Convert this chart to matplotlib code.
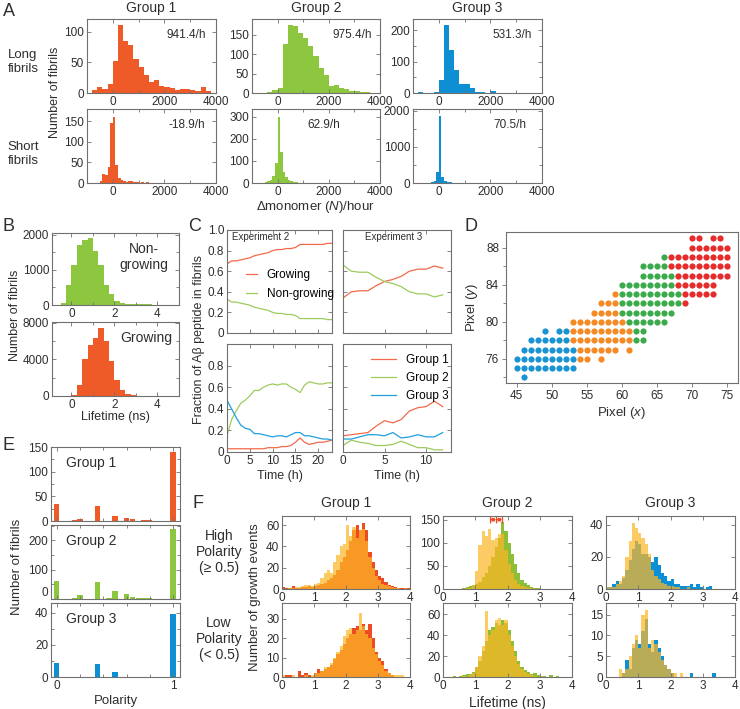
import matplotlib
matplotlib.use('Agg')
import matplotlib.pyplot as plt
import numpy as np
from matplotlib.ticker import FixedLocator

plt.rcParams['font.family'] = ['Liberation Sans', 'DejaVu Sans']
plt.rcParams['font.size'] = 8
plt.rcParams['mathtext.fontset'] = 'custom'
plt.rcParams['mathtext.rm'] = 'Liberation Sans'
plt.rcParams['mathtext.it'] = 'Liberation Sans:italic'

# ---------------- DATA ----------------
# Panel A: histograms of delta monomer per hour
a_groups = ['Group 1', 'Group 2', 'Group 3']
a_long_rates = ['941.4/h', '975.4/h', '531.3/h']
a_short_rates = ['-18.9/h', '62.9/h', '70.5/h']
a_long_bin_start = [-800, -1000, -800]
a_long_bin_width = 200
a_short_bin_start = [-600, -600, -600]
a_short_bin_width = 100
a_long_g1 = [5, 10, 6, 15, 53, 112, 85, 78, 55, 42, 30, 18, 22, 12, 10, 8, 5, 6, 6, 5, 3, 10, 3]
a_long_g2 = [1, 1, 1, 2, 8, 12, 125, 175, 172, 155, 140, 120, 95, 65, 45, 18, 20, 12, 10, 6, 4, 3, 2, 1]
a_long_g3 = [3, 0, 1, 3, 40, 215, 138, 72, 30, 27, 15, 3, 3, 0, 7]
a_short_g1 = [0, 6, 22, 20, 38, 145, 160, 45, 12, 8, 4, 3, 4, 5, 3, 3, 1, 2, 1, 2, 1, 1, 1]
a_short_g2 = [2, 5, 8, 12, 30, 90, 300, 140, 50, 25, 12, 8, 6, 4, 2, 2, 1]
a_short_g3 = [0, 0, 5, 15, 50, 300, 1850, 180, 60, 30, 15, 8, 5, 3]

# Panel B: lifetime histograms
b_bin_width = 0.25
b_nongrow_start = -0.5
b_nongrow = [50, 570, 1150, 1700, 1850, 1900, 1550, 1150, 580, 300, 100, 50, 20, 15, 20, 35, 35, 5]
b_grow_start = 0.0
b_grow = [100, 1200, 4100, 5600, 6300, 7400, 6000, 3800, 1800, 700, 200, 60]

# Panel C: fraction of peptide in fibrils
c_time2 = [0, 1, 2, 3, 4, 5, 6, 7, 8, 9, 10, 11, 12, 13, 14, 15, 16, 17, 18, 19, 20, 21, 22, 23]
c_time3 = [0, 1, 2, 3, 4, 5, 6, 7, 8, 9, 10, 11, 12]
c_grow2 = [0.67, 0.70, 0.70, 0.71, 0.72, 0.73, 0.75, 0.76, 0.77, 0.78, 0.80, 0.81, 0.81, 0.82, 0.82, 0.83,
           0.86, 0.86, 0.86, 0.86, 0.86, 0.86, 0.87, 0.87]
c_nongrow2 = [0.33, 0.30, 0.30, 0.29, 0.28, 0.27, 0.25, 0.24, 0.23, 0.22, 0.20, 0.19, 0.19, 0.18, 0.18, 0.17,
              0.14, 0.14, 0.14, 0.14, 0.14, 0.14, 0.13, 0.13]
c_grow3 = [0.34, 0.40, 0.41, 0.41, 0.46, 0.50, 0.52, 0.55, 0.60, 0.62, 0.62, 0.65, 0.63]
c_nongrow3 = [0.66, 0.60, 0.59, 0.59, 0.54, 0.50, 0.48, 0.45, 0.40, 0.38, 0.38, 0.35, 0.37]
c_g1_exp2 = [0.03, 0.03, 0.03, 0.03, 0.03, 0.03, 0.03, 0.03, 0.03, 0.04, 0.04, 0.04, 0.05, 0.05, 0.06, 0.09,
             0.13, 0.09, 0.07, 0.08, 0.09, 0.09, 0.10, 0.11]
c_g2_exp2 = [0.15, 0.30, 0.38, 0.45, 0.48, 0.52, 0.57, 0.57, 0.60, 0.62, 0.63, 0.62, 0.63, 0.63, 0.60, 0.58,
             0.55, 0.62, 0.65, 0.64, 0.63, 0.63, 0.64, 0.64]
c_g3_exp2 = [0.48, 0.40, 0.32, 0.25, 0.22, 0.21, 0.17, 0.17, 0.16, 0.15, 0.14, 0.15, 0.15, 0.14, 0.16, 0.18,
             0.18, 0.15, 0.15, 0.14, 0.13, 0.12, 0.12, 0.11]
c_g1_exp3 = [0.15, 0.16, 0.17, 0.18, 0.24, 0.29, 0.27, 0.30, 0.38, 0.41, 0.42, 0.47, 0.42]
c_g2_exp3 = [0.06, 0.11, 0.09, 0.08, 0.06, 0.06, 0.07, 0.10, 0.07, 0.04, 0.04, 0.02, 0.02]
c_g3_exp3 = [0.12, 0.12, 0.14, 0.16, 0.16, 0.15, 0.18, 0.13, 0.14, 0.16, 0.14, 0.14, 0.18]

# Panel D: pixel clusters (row y -> list of x)
d_blue = {79: [49, 51, 52], 78: [47, 48, 49, 50, 51, 52], 77: [46, 47, 48, 49, 50, 51, 52, 53],
          76: [45, 46, 47, 48, 49, 50, 51, 52, 53], 75: [45, 46, 47, 48, 49, 50, 51, 52, 53], 74: [46]}
d_orange = {83: [59], 82: [57, 58, 59], 81: [56, 57, 58, 59], 80: [53, 54, 55, 56, 57, 58, 59, 60],
            79: [53, 54, 55, 56, 57, 58, 59, 60, 61], 78: [53, 54, 55, 56, 57, 58, 59, 60, 61],
            77: [54, 55, 56, 57, 58, 59, 61], 76: [54, 55, 57]}
d_green = {87: [66], 86: [63, 64, 65, 66], 85: [63, 64, 65, 66, 67], 84: [60, 61, 62, 63, 64, 65, 66, 67],
           83: [60, 61, 62, 63, 64, 65, 66, 67, 68], 82: [60, 61, 62, 63, 64, 65, 66, 67, 68],
           81: [60, 61, 62, 63, 64, 65, 66, 67], 80: [61, 62, 63, 64, 65, 66], 79: [62, 63], 78: [62, 63]}
d_red = {89: [70, 71, 73, 74], 88: [70, 71, 72, 73, 74, 75], 87: [67, 68, 69, 70, 71, 72, 73, 74, 75],
         86: [67, 68, 69, 70, 71, 72, 73, 74, 75], 85: [68, 69, 70, 71, 72, 73, 74, 75],
         84: [68, 69, 70, 71, 72, 73], 83: [69, 70, 71, 72, 73], 82: [69]}

# Panel E: polarity
e_pol_g1 = [0.0, 0.15, 0.2, 0.35, 0.45, 0.5, 0.6, 0.65, 0.75, 0.8, 1.0]
e_cnt_g1 = [35, 2, 5, 30, 1, 10, 7, 4, 2, 2, 140]
e_pol_g2 = [0.0, 0.15, 0.2, 0.35, 0.45, 0.5, 0.6, 0.65, 0.7, 0.75, 0.8, 1.0]
e_cnt_g2 = [63, 2, 15, 58, 3, 27, 16, 6, 5, 3, 2, 240]
e_pol_g3 = [0.0, 0.35, 0.5, 1.0]
e_cnt_g3 = [9, 8, 3, 39]

# Panel F: lifetime histograms of growth events (bins 0.0-4.0, width 0.1)
f_bin_width = 0.1
f_g1_high_grp = [2, 1, 1, 3, 1, 1, 2, 2, 3, 2, 3, 4, 5, 6, 8, 10, 13, 18, 25, 30,
                 37, 45, 55, 60, 55, 62, 55, 35, 25, 18, 12, 10, 7, 4, 3, 2, 1, 1, 1, 1]
f_g1_high_yel = [0, 0, 1, 1, 2, 2, 3, 4, 4, 3, 5, 6, 10, 15, 18, 15, 25, 32, 40, 42,
                 60, 50, 58, 48, 55, 56, 45, 30, 20, 12, 8, 5, 4, 3, 2, 1, 1, 0, 1, 0]
f_g1_low_grp = [0, 1, 1, 0, 0, 3, 1, 2, 1, 0, 2, 4, 3, 4, 5, 6, 9, 12, 14, 17,
                20, 22, 25, 26, 24, 27, 24, 27, 20, 13, 10, 8, 4, 2, 1, 0, 0, 0, 0, 0]
f_g1_low_yel = [1, 0, 0, 1, 0, 0, 0, 1, 0, 1, 2, 2, 3, 5, 5, 7, 10, 13, 16, 21,
                24, 25, 22, 24, 33, 26, 22, 20, 15, 12, 8, 6, 3, 2, 1, 1, 1, 1, 0, 0]
f_g2_high_grp = [0, 0, 1, 1, 0, 1, 2, 4, 6, 8, 10, 15, 25, 35, 50, 70, 90, 110, 145, 125,
                 100, 75, 55, 35, 20, 12, 8, 5, 3, 2, 1, 1, 0, 1, 0, 0, 0, 0, 0, 0]
f_g2_high_yel = [0, 0, 0, 0, 0, 0, 0, 2, 3, 8, 40, 95, 125, 115, 130, 105, 110, 120, 118, 85,
                 55, 35, 20, 10, 6, 4, 2, 2, 1, 1, 1, 0, 1, 0, 0, 0, 0, 0, 0, 0]
f_g2_low_grp = [0, 0, 0, 1, 0, 1, 2, 3, 3, 5, 10, 15, 25, 35, 45, 48, 52, 50, 55, 52,
                45, 35, 25, 15, 10, 7, 5, 3, 4, 2, 1, 1, 0, 2, 0, 1, 0, 0, 0, 0]
f_g2_low_yel = [0, 0, 0, 0, 0, 0, 1, 0, 2, 4, 10, 20, 30, 63, 40, 45, 55, 57, 50, 55,
                40, 30, 20, 12, 8, 5, 3, 2, 1, 0, 1, 0, 0, 0, 0, 0, 0, 0, 0, 0]
f_g3_high_grp = [1, 1, 3, 5, 3, 7, 12, 18, 25, 30, 28, 22, 22, 20, 17, 20, 15, 10, 8, 5,
                 6, 3, 3, 2, 2, 2, 3, 1, 3, 1, 0, 1, 2, 0, 0, 0, 0, 0, 0, 0]
f_g3_high_yel = [1, 1, 1, 3, 5, 8, 20, 30, 41, 38, 35, 32, 28, 22, 12, 8, 6, 4, 3, 2,
                 2, 1, 1, 0, 0, 1, 0, 0, 0, 0, 0, 0, 0, 0, 0, 0, 0, 0, 0, 0]
f_g3_low_grp = [0, 0, 0, 0, 0, 1, 4, 2, 7, 9, 8, 11, 14, 8, 6, 9, 7, 5, 3, 2,
                1, 0, 0, 0, 0, 0, 1, 0, 0, 0, 0, 0, 0, 1, 0, 0, 0, 0, 0, 0]
f_g3_low_yel = [0, 0, 0, 0, 2, 1, 2, 5, 8, 10, 7, 15, 16, 7, 9, 8, 6, 4, 3, 2,
                1, 1, 0, 1, 0, 0, 0, 0, 0, 0, 0, 0, 0, 0, 0, 0, 0, 0, 0, 0]
f_err_x = [1.46, 1.65, 1.84]
f_err_y = 150

# ---------------- STYLE ----------------
RED = '#EF5A29'
GREEN = '#8DC63F'
BLUE = '#0E8FD3'
C_RED = '#F26A4A'
C_GREEN = '#9DCB5E'
C_BLUE = '#1FA0DD'
D_BLUE = '#1A93D3'
D_ORANGE = '#F58A25'
D_GREEN = '#3BAA4A'
D_RED = '#E52B2B'
F_RED = '#EC4B24'
F_GREEN = '#8CBF35'
F_BLUE = '#0A90D6'
YEL = '#FDB827'
TXT = '#2e2e2e'
SP = '#707070'
TICK_FS = 8.5
LAB_FS = 9.5
TITLE_FS = 10
LET_FS = 13

W, H = 740, 709
fig = plt.figure(figsize=(W / 100, H / 100), dpi=100)


def add_ax(l, t, r, b):
    return fig.add_axes([l / W, 1 - b / H, (r - l) / W, (b - t) / H])


def style(ax, direction='in', mirror=True):
    for s in ax.spines.values():
        s.set_color(SP)
        s.set_linewidth(0.8)
    ax.tick_params(which='both', direction=direction, top=mirror, right=mirror,
                   colors=SP, labelcolor=TXT, labelsize=TICK_FS, width=0.6)
    ax.tick_params(which='major', length=3, pad=2)
    ax.tick_params(which='minor', length=2)


def ftext(x, y, s, **kw):
    kw.setdefault('color', TXT)
    fig.text(x / W, 1 - y / H, s, **kw)


def hist_bars(ax, start, width, counts, color, alpha=1.0):
    edges = start + width * np.arange(len(counts))
    ax.bar(edges, counts, width=width, align='edge', color=color, linewidth=0, alpha=alpha)


# ---------------- PANEL A ----------------
a_cols = [(87, 216), (252, 380), (413, 542)]
a_long_data = [a_long_g1, a_long_g2, a_long_g3]
a_short_data = [a_short_g1, a_short_g2, a_short_g3]
a_colors = [RED, GREEN, BLUE]
a_long_ylim = [121, 190, 235]
a_short_ylim = [180, 335, 2050]
a_long_yt = [([0, 50, 100], []), ([0, 50, 100, 150], []), ([0, 100, 200], [50, 150])]
a_short_yt = [([0, 50, 100, 150], []), ([0, 100, 200, 300], []), ([0, 1000, 2000], [500, 1500])]
a_long_tx = [0.62, 0.63, 0.62]
a_short_tx = [0.63, 0.43, 0.62]
for i in range(3):
    l, r = a_cols[i]
    for row, (t, b) in enumerate([(19, 93), (109, 183)]):
        ax = add_ax(l, t, r, b)
        if row == 0:
            hist_bars(ax, a_long_bin_start[i], a_long_bin_width, a_long_data[i], a_colors[i])
            ax.set_ylim(0, a_long_ylim[i])
            maj, mn = a_long_yt[i]
            rate, tx = a_long_rates[i], a_long_tx[i]
        else:
            hist_bars(ax, a_short_bin_start[i], a_short_bin_width, a_short_data[i], a_colors[i])
            ax.set_ylim(0, a_short_ylim[i])
            maj, mn = a_short_yt[i]
            rate, tx = a_short_rates[i], a_short_tx[i]
        ax.set_xlim(-1000, 4000)
        ax.xaxis.set_major_locator(FixedLocator([0, 2000, 4000]))
        ax.xaxis.set_minor_locator(FixedLocator([1000, 3000]))
        ax.yaxis.set_major_locator(FixedLocator(maj))
        ax.yaxis.set_minor_locator(FixedLocator(mn))
        style(ax)
        ax.text(tx, 0.78, rate, transform=ax.transAxes, ha='left', va='center', fontsize=8.5, color=TXT)
    ftext((l + r) / 2, 8, a_groups[i], ha='center', va='center', fontsize=TITLE_FS)

ftext(3, 11, 'A', ha='left', va='center', fontsize=LET_FS)
ftext(23, 62, 'Long\nfibrils', ha='center', va='center', fontsize=9.5, linespacing=1.2)
ftext(23, 154, 'Short\nfibrils', ha='center', va='center', fontsize=9.5, linespacing=1.2)
ftext(55, 92, 'Number of fibrils', ha='center', va='center', rotation=90, fontsize=9)
ftext(315, 207, '\u0394monomer ($\\mathit{N}$)/hour', ha='center', va='center', fontsize=LAB_FS)

# ---------------- PANEL B ----------------
axb1 = add_ax(52, 233, 179, 305)
hist_bars(axb1, b_nongrow_start, b_bin_width, b_nongrow, GREEN)
axb1.set_xlim(-0.9, 5)
axb1.set_ylim(0, 2050)
axb1.xaxis.set_major_locator(FixedLocator([0, 2, 4]))
axb1.xaxis.set_minor_locator(FixedLocator([1, 3]))
axb1.yaxis.set_major_locator(FixedLocator([0, 1000, 2000]))
axb1.yaxis.set_minor_locator(FixedLocator([500, 1500]))
style(axb1)
axb1.text(0.72, 0.67, 'Non-\ngrowing', transform=axb1.transAxes, ha='center', va='center',
          fontsize=10, color=TXT, linespacing=1.15)

axb2 = add_ax(52, 322, 179, 396)
hist_bars(axb2, b_grow_start, b_bin_width, b_grow, RED)
axb2.set_xlim(-0.9, 5)
axb2.set_ylim(0, 8100)
axb2.xaxis.set_major_locator(FixedLocator([0, 2, 4]))
axb2.xaxis.set_minor_locator(FixedLocator([1, 3]))
axb2.yaxis.set_major_locator(FixedLocator([0, 4000, 8000]))
axb2.yaxis.set_minor_locator(FixedLocator([2000, 6000]))
style(axb2)
axb2.text(0.74, 0.78, 'Growing', transform=axb2.transAxes, ha='center', va='center',
          fontsize=10, color=TXT)
ftext(3, 227, 'B', ha='left', va='center', fontsize=LET_FS)
ftext(15, 315, 'Number of fibrils', ha='center', va='center', rotation=90, fontsize=9)
ftext(115, 417, 'Lifetime (ns)', ha='center', va='center', fontsize=9)

# ---------------- PANEL C ----------------
c_axes = {}
for key, (l, t, r, b) in {'tl': (227, 230, 332, 333), 'tr': (343, 230, 451, 333),
                          'bl': (227, 344, 332, 452), 'br': (343, 344, 451, 452)}.items():
    ax = add_ax(l, t, r, b)
    style(ax)
    ax.set_ylim(0, 1.0)
    c_axes[key] = ax

ax = c_axes['tl']
ax.plot(c_time2, c_grow2, color=C_RED, lw=0.9, label='Growing')
ax.plot(c_time2, c_nongrow2, color=C_GREEN, lw=0.9, label='Non-growing')
ax.legend(loc='center left', bbox_to_anchor=(0.12, 0.47), frameon=False, fontsize=8.5,
          handlelength=1.0, handletextpad=0.8, labelspacing=0.6, borderpad=0)
ax.text(0.05, 0.93, 'Experiment 2', transform=ax.transAxes, ha='left', va='center', fontsize=7, color=TXT)

ax = c_axes['tr']
ax.plot(c_time3, c_grow3, color=C_RED, lw=0.9)
ax.plot(c_time3, c_nongrow3, color=C_GREEN, lw=0.9)
ax.text(0.2, 0.93, 'Experiment 3', transform=ax.transAxes, ha='left', va='center', fontsize=7, color=TXT)

ax = c_axes['bl']
ax.plot(c_time2, c_g1_exp2, color=C_RED, lw=0.9)
ax.plot(c_time2, c_g2_exp2, color=C_GREEN, lw=0.9)
ax.plot(c_time2, c_g3_exp2, color=C_BLUE, lw=0.9)

ax = c_axes['br']
ax.plot(c_time3, c_g1_exp3, color=C_RED, lw=0.9, label='Group 1')
ax.plot(c_time3, c_g2_exp3, color=C_GREEN, lw=0.9, label='Group 2')
ax.plot(c_time3, c_g3_exp3, color=C_BLUE, lw=0.9, label='Group 3')
ax.legend(loc='upper left', bbox_to_anchor=(0.2, 0.96), frameon=False, fontsize=8.5,
          handlelength=2.2, handletextpad=0.8, labelspacing=0.5, borderpad=0)

for key in ['tl', 'bl']:
    c_axes[key].set_xlim(0, 23)
    c_axes[key].xaxis.set_major_locator(FixedLocator([0, 5, 10, 15, 20]))
for key in ['tr', 'br']:
    c_axes[key].set_xlim(0, 13)
    c_axes[key].xaxis.set_major_locator(FixedLocator([0, 5, 10]))
    c_axes[key].tick_params(labelleft=False)
for key in ['tl', 'tr']:
    c_axes[key].tick_params(labelbottom=False)
c_axes['tl'].yaxis.set_major_locator(FixedLocator([0, 0.2, 0.4, 0.6, 0.8, 1.0]))
c_axes['tl'].set_yticklabels(['0', '0.2', '0.4', '0.6', '0.8', '1.0'])
c_axes['bl'].yaxis.set_major_locator(FixedLocator([0, 0.2, 0.4, 0.6, 0.8]))
c_axes['bl'].set_yticklabels(['0', '0.2', '0.4', '0.6', '0.8'])
c_axes['tr'].yaxis.set_major_locator(FixedLocator([0, 0.2, 0.4, 0.6, 0.8, 1.0]))
c_axes['br'].yaxis.set_major_locator(FixedLocator([0, 0.2, 0.4, 0.6, 0.8]))
c_axes['bl'].set_xlabel('Time (h)', fontsize=9, color=TXT, labelpad=2)
c_axes['br'].set_xlabel('Time (h)', fontsize=9, color=TXT, labelpad=2)
ftext(188, 227, 'C', ha='left', va='center', fontsize=LET_FS)
ftext(199, 340, 'Fraction of A\u03b2 peptide in fibrils', ha='center', va='center', rotation=90, fontsize=9)

# ---------------- PANEL D ----------------
axd = add_ax(506, 232, 738, 383)
for rows, col in [(d_blue, D_BLUE), (d_orange, D_ORANGE), (d_green, D_GREEN), (d_red, D_RED)]:
    xs, ys = [], []
    for yv, xlist in rows.items():
        xs.extend(xlist)
        ys.extend([yv] * len(xlist))
    axd.scatter(xs, ys, s=20, color=col, linewidths=0)
axd.set_xlim(43.5, 76.5)
axd.set_ylim(73.4, 89.7)
axd.xaxis.set_major_locator(FixedLocator([45, 50, 55, 60, 65, 70, 75]))
axd.yaxis.set_major_locator(FixedLocator([76, 80, 84, 88]))
axd.yaxis.set_minor_locator(FixedLocator([74, 78, 82, 86]))
style(axd, direction='out', mirror=False)
axd.set_xlabel('Pixel ($\\mathit{x}$)', fontsize=LAB_FS, color=TXT, labelpad=2)
axd.set_ylabel('Pixel ($\\mathit{y}$)', fontsize=LAB_FS, color=TXT, labelpad=4)
ftext(465, 227, 'D', ha='left', va='center', fontsize=LET_FS)

# ---------------- PANEL E ----------------
e_rows = [(447, 521), (525, 599), (603, 677)]
e_data = [(e_pol_g1, e_cnt_g1, RED, 150, [0, 50, 100, 150], [25, 75, 125]),
          (e_pol_g2, e_cnt_g2, GREEN, 252, [0, 100, 200], [50, 150, 250]),
          (e_pol_g3, e_cnt_g3, BLUE, 46, [0, 20, 40], [10, 30])]
for i, ((t, b), (pos, cnt, col, ymax, maj, mn)) in enumerate(zip(e_rows, e_data)):
    ax = add_ax(51, t, 180, b)
    ax.bar(pos, cnt, width=0.045, color=col, linewidth=0)
    ax.set_xlim(-0.05, 1.06)
    ax.set_ylim(0, ymax)
    ax.xaxis.set_major_locator(FixedLocator([0, 1]))
    ax.xaxis.set_minor_locator(FixedLocator([0.2, 0.4, 0.6, 0.8]))
    ax.yaxis.set_major_locator(FixedLocator(maj))
    ax.yaxis.set_minor_locator(FixedLocator(mn))
    style(ax)
    if i < 2:
        ax.tick_params(labelbottom=False)
    else:
        ax.set_xlabel('Polarity', fontsize=LAB_FS, color=TXT, labelpad=2)
    if i == 1:
        # nudge the bottom '0' label up a little so it clears the panel below
        for lab in ax.get_yticklabels():
            if lab.get_text() == '0':
                lab.set_va('bottom')
    ax.text(0.31, 0.79, a_groups[i], transform=ax.transAxes, ha='center', va='center',
            fontsize=TITLE_FS, color=TXT)
ftext(3, 446, 'E', ha='left', va='center', fontsize=LET_FS)
ftext(17, 567, 'Number of fibrils', ha='center', va='center', rotation=90, fontsize=LAB_FS)

# ---------------- PANEL F ----------------
f_cols = [(282, 410), (443, 572), (606, 735)]
f_rows = [(516, 589), (603, 677)]
f_data = [
    [(f_g1_high_grp, f_g1_high_yel, F_RED, 68.5, [0, 20, 40, 60]),
     (f_g1_low_grp, f_g1_low_yel, F_RED, 38, [0, 10, 20, 30])],
    [(f_g2_high_grp, f_g2_high_yel, F_GREEN, 158, [0, 50, 100, 150]),
     (f_g2_low_grp, f_g2_low_yel, F_GREEN, 71, [0, 20, 40, 60])],
    [(f_g3_high_grp, f_g3_high_yel, F_BLUE, 45.5, [0, 20, 40]),
     (f_g3_low_grp, f_g3_low_yel, F_BLUE, 17.8, [0, 5, 10, 15])],
]
for ci, (l, r) in enumerate(f_cols):
    for ri, (t, b) in enumerate(f_rows):
        grp, yel, col, ymax, maj = f_data[ci][ri]
        ax = add_ax(l, t, r, b)
        hist_bars(ax, 0.0, f_bin_width, grp, col)
        hist_bars(ax, 0.0, f_bin_width, yel, YEL, alpha=0.72)
        ax.set_xlim(0, 4)
        ax.set_ylim(0, ymax)
        ax.xaxis.set_major_locator(FixedLocator([0, 1, 2, 3, 4]))
        ax.yaxis.set_major_locator(FixedLocator(maj))
        style(ax)
        if ci == 1 and ri == 0:
            ax.annotate('', xy=(f_err_x[0], f_err_y), xytext=(f_err_x[1], f_err_y),
                        arrowprops=dict(arrowstyle='<->', color=F_RED, lw=0.9,
                                        shrinkA=0, shrinkB=0, mutation_scale=5))
            ax.annotate('', xy=(f_err_x[1], f_err_y), xytext=(f_err_x[2], f_err_y),
                        arrowprops=dict(arrowstyle='<->', color=F_RED, lw=0.9,
                                        shrinkA=0, shrinkB=0, mutation_scale=5))
            ax.vlines(f_err_x, f_err_y - 7, f_err_y + 7, color=F_RED, lw=0.9)
        if ri == 1 and ci == 1:
            ax.set_xlabel('Lifetime (ns)', fontsize=10, color=TXT, labelpad=3)
    ftext((l + r) / 2, 503, a_groups[ci], ha='center', va='center', fontsize=TITLE_FS)

ftext(193, 503, 'F', ha='left', va='center', fontsize=LET_FS)
ftext(219, 552, 'High\nPolarity\n(\u2265 0.5)', ha='center', va='center', fontsize=10, linespacing=1.15)
ftext(219, 639, 'Low\nPolarity\n(< 0.5)', ha='center', va='center', fontsize=10, linespacing=1.15)
ftext(255, 597, 'Number of growth events', ha='center', va='center', rotation=90, fontsize=LAB_FS)

fig.savefig('out.png', dpi=100)
